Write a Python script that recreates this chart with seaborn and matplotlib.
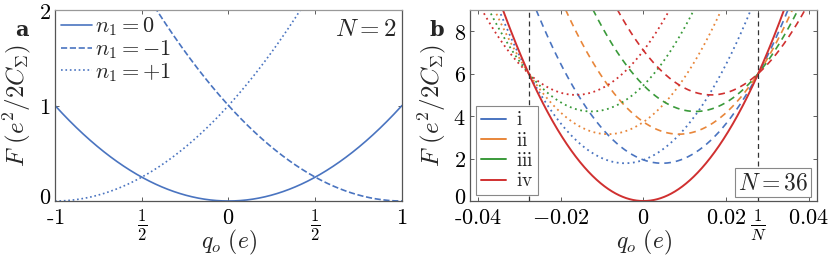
import numpy as np
import pandas as pd
import matplotlib
matplotlib.use("Agg")
import matplotlib.pyplot as plt
import matplotlib.transforms as mtrans
import seaborn as sns

sns.set_style("ticks")
plt.rcParams['font.family'] = ['DejaVu Serif']
plt.rcParams['mathtext.fontset'] = 'cm'
plt.rcParams['xtick.direction'] = 'in'
plt.rcParams['ytick.direction'] = 'in'

# ---- panel a data (N = 2) ----
n1_values = [0, -1, 1]
n1_labels = [r'$n_1 = 0$', r'$n_1 = -1$', r'$n_1 = +1$']
n1_styles = ['-', '--', ':']
a_xticks = [-1, -0.5, 0, 0.5, 1]
a_xticklabels = [r'$\text{-}1$', r'$\frac{1}{2}$', '$0$', r'$\frac{1}{2}$', '$1$']
a_yticks = [0, 1, 2]

# ---- panel b data (N = 36) ----
N = 36
F_cross = 6.0                     # all curves meet at (+-1/N, 6)
curv = F_cross * N ** 2            # red solid curve F = curv * q^2
fam_names = ['i', 'ii', 'iii', 'iv']
fam_colors = ['#4a74c0', '#e8863a', '#3a9a3a', '#d03030']
fam_center = [0.0045, 0.0086, 0.0126, 0.0164]   # vertex position (dashed; dotted mirrored)
fam_min = [1.78, 3.15, 4.22, 5.0]               # vertex value
b_xticks = [-0.04, -0.02, 0, 0.02, 1 / 36, 0.04]
b_xticklabels = [r'$\text{-}0.04$', '$-0.02$', '$0$', '$0.02$', r'$\frac{1}{N}$', '$0.04$']
b_yticks = [0, 2, 4, 6, 8]

blue = fam_colors[0]
frame_col = '#555555'
FS_TICK = 16

fig = plt.figure(figsize=(8.3, 2.56), dpi=100)
ax1 = fig.add_axes([0.0663, 0.2148, 0.418, 0.746])
ax2 = fig.add_axes([0.5663, 0.2148, 0.418, 0.746])

# panel a
q = np.linspace(-1, 1, 801)
rows = []
for n, lab in zip(n1_values, n1_labels):
    rows.append(pd.DataFrame({'q': q, 'F': (q + n) ** 2, 'lab': lab}))
dfa = pd.concat(rows)
for lab, ls in zip(n1_labels, n1_styles):
    sns.lineplot(data=dfa[dfa.lab == lab], x='q', y='F', color=blue, ls=ls,
                 lw=1.2, label=lab, ax=ax1)
ax1.set_xlim(-1, 1)
ax1.set_ylim(0, 2)
ax1.set_xticks(a_xticks)
ax1.set_xticklabels(a_xticklabels, fontsize=FS_TICK)
ax1.set_yticks(a_yticks)
ax1.set_yticklabels(['$0$', '$1$', '$2$'], fontsize=FS_TICK)
ax1.legend(loc='upper left', frameon=False, fontsize=16, handlelength=1.4,
           handletextpad=0.15, borderaxespad=0.05, labelspacing=0.0,
           borderpad=0.2)
ax1.text(0.985, 0.96, r'$N = 2$', transform=ax1.transAxes, ha='right', va='top',
         fontsize=18)
ax1.text(-0.075, 0.95, 'a', transform=ax1.transAxes, ha='right', va='top',
         fontsize=15, fontweight='bold')

# panel b
qb = np.linspace(-0.042, 0.042, 1601)
rows = []
for name, c, m in zip(fam_names, fam_center, fam_min):
    rows.append(pd.DataFrame({'q': qb, 'F': curv * (qb - c) ** 2 + m, 'fam': name, 'kind': 'dash'}))
    rows.append(pd.DataFrame({'q': qb, 'F': curv * (qb + c) ** 2 + m, 'fam': name, 'kind': 'dot'}))
dfb = pd.concat(rows)
for name, col in zip(fam_names, fam_colors):
    d = dfb[(dfb.fam == name) & (dfb.kind == 'dash')]
    sns.lineplot(data=d, x='q', y='F', color=col, ls=(0, (4, 3)), lw=1.2, ax=ax2)
    d = dfb[(dfb.fam == name) & (dfb.kind == 'dot')]
    sns.lineplot(data=d, x='q', y='F', color=col, ls=(0, (1, 2)), lw=1.3, ax=ax2)
red = pd.DataFrame({'q': qb, 'F': curv * qb ** 2})
sns.lineplot(data=red, x='q', y='F', color=fam_colors[3], lw=1.4, ax=ax2)
for xv in (-1 / N, 1 / N):
    ax2.axvline(xv, color='#333333', ls=(0, (4, 3)), lw=0.9)
handles = [plt.Line2D([], [], color=c, lw=1.4) for c in fam_colors]
leg = ax2.legend(handles, [r'$\mathrm{%s}$' % f for f in fam_names], loc='lower left',
                 fontsize=14, handlelength=1.3, handletextpad=0.5, labelspacing=0.12,
                 fancybox=False, edgecolor='#888888', framealpha=1,
                 borderaxespad=0.3, borderpad=0.25)
leg.get_frame().set_linewidth(0.8)
ax2.text(0.975, 0.035, r'$N = 36$', transform=ax2.transAxes, ha='right', va='bottom',
         fontsize=17, bbox=dict(boxstyle='square,pad=0.12', fc='white', ec='#888888', lw=0.8))
ax2.set_xlim(-0.042, 0.042)
ax2.set_ylim(0, 9)
ax2.set_xticks(b_xticks)
ax2.set_xticklabels(b_xticklabels, fontsize=FS_TICK)
ax2.set_yticks(b_yticks)
ax2.set_yticklabels(['$%d$' % v for v in b_yticks], fontsize=FS_TICK)
ax2.text(-0.075, 0.95, 'b', transform=ax2.transAxes, ha='right', va='top',
         fontsize=15, fontweight='bold')

lift = mtrans.ScaledTranslation(0, 4 / 72, fig.dpi_scale_trans)
for ax in (ax1, ax2):
    ax.set_xlabel(r'$q_o\ (e)$', fontsize=17)
    ax.set_ylabel(r'$F\ (e^2/2C_\Sigma)$', fontsize=18)
    ax.xaxis.set_label_coords(0.5, -0.215)
    ax.xaxis.label.set_va('center')
    ax.yaxis.set_label_coords(-0.11, 0.5)
    ax.yaxis.label.set_va('center')
    ax.tick_params(top=True, right=True, length=3, width=0.6, colors='#444444',
                   labelcolor='black')
    ax.tick_params(axis='x', pad=4.5)
    ax.tick_params(axis='y', pad=3)
    for s in ax.spines.values():
        s.set_color(frame_col)
        s.set_linewidth(0.9)
    ax.spines['top'].set_color('#999999')
    for lbl in ax.get_xticklabels():
        if 'frac' in lbl.get_text():
            lbl.set_fontsize(17)
    # the "0" at the corner sits a little above the axis line, as in the original
    z = ax.get_yticklabels()[0]
    z.set_transform(z.get_transform() + lift)

fig.savefig('out.png', dpi=100)
